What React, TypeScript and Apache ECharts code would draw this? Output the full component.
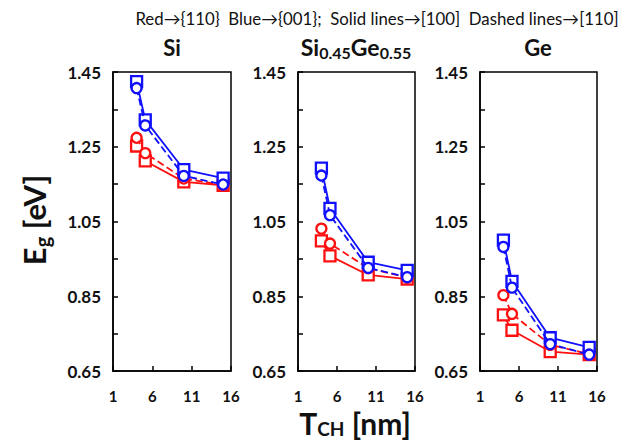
import React, { useEffect, useRef } from "react";
import * as echarts from "echarts";

// Channel thickness T_CH [nm]
const tch = [4, 5.1, 10, 15];

// Band gap Eg [eV]; red = {110}, blue = {001}; "100" = solid [100], "110" = dashed [110]
const siRed100 = [1.252, 1.212, 1.156, 1.147];
const siRed110 = [1.274, 1.233, 1.165, 1.148];
const siBlue100 = [1.424, 1.322, 1.189, 1.166];
const siBlue110 = [1.407, 1.307, 1.172, 1.149];

const sigeRed100 = [0.998, 0.958, 0.907, 0.896];
const sigeRed110 = [1.031, 0.991, 0.925, 0.9];
const sigeBlue100 = [1.193, 1.085, 0.941, 0.919];
const sigeBlue110 = [1.173, 1.067, 0.926, 0.901];

const geRed100 = [0.8, 0.759, 0.702, 0.694];
const geRed110 = [0.853, 0.803, 0.72, 0.695];
const geBlue100 = [1.0, 0.89, 0.739, 0.713];
const geBlue110 = [0.982, 0.873, 0.722, 0.694];

const xTicks = [1, 6, 11, 16];
const yMin = 0.65;
const yMax = 1.45;

const RED = "#ff1010";
const BLUE = "#1010ff";
const FONT = "Lato, 'Open Sans', sans-serif";

const panels = [
  { red100: siRed100, red110: siRed110, blue100: siBlue100, blue110: siBlue110 },
  { red100: sigeRed100, red110: sigeRed110, blue100: sigeBlue100, blue110: sigeBlue110 },
  { red100: geRed100, red110: geRed110, blue100: geBlue100, blue110: geBlue110 },
];

const grids = [
  { left: 113, top: 72, width: 118, height: 299 },
  { left: 298, top: 72, width: 117, height: 299 },
  { left: 480, top: 72, width: 117, height: 299 },
];

export default function App() {
  const ref = useRef<HTMLDivElement>(null);

  useEffect(() => {
    if (!ref.current) return;
    const chart = echarts.init(ref.current, undefined, { renderer: "svg" });

    const zip = (vals: number[]) => tch.map((t, i) => [t, vals[i]]);

    const series: any[] = [];
    panels.forEach((p, i) => {
      const mk = (vals: number[], color: string, dashed: boolean, z: number) => ({
        type: "line",
        xAxisIndex: i,
        yAxisIndex: i,
        data: zip(vals),
        symbol: dashed ? "circle" : "rect",
        symbolSize: dashed ? 10 : 11,
        z,
        lineStyle: { color, width: 1.8, type: dashed ? "dashed" : "solid" },
        itemStyle: { color: "#fff", borderColor: color, borderWidth: 2.3 },
      });
      series.push(mk(p.red100, RED, false, 2));
      series.push(mk(p.red110, RED, true, 3));
      series.push(mk(p.blue100, BLUE, false, 4));
      series.push(mk(p.blue110, BLUE, true, 5));
    });

    const axisLine = { show: true, lineStyle: { color: "#000", width: 1.5 } };
    const axisTick = { show: true, inside: true, length: 5, lineStyle: { color: "#000", width: 1.5 } };

    const option: any = {
      animation: false,
      backgroundColor: "#fff",
      grid: grids.map((g) => ({
        ...g,
        show: true,
        borderColor: "#000",
        borderWidth: 1.5,
        backgroundColor: "transparent",
        containLabel: false,
      })),
      xAxis: grids.map((_, i) => ({
        type: "value",
        gridIndex: i,
        min: xTicks[0],
        max: xTicks[xTicks.length - 1],
        interval: 5,
        axisLine,
        axisTick,
        splitLine: { show: false },
        axisLabel: {
          color: "#111",
          fontFamily: FONT,
          fontWeight: "bold",
          fontSize: 15,
          margin: 17,
        },
      })),
      yAxis: grids.map((_, i) => ({
        type: "value",
        gridIndex: i,
        min: yMin,
        max: yMax,
        interval: 0.1,
        axisLine,
        axisTick,
        splitLine: { show: false },
        axisLabel: {
          color: "#111",
          fontFamily: FONT,
          fontWeight: "bold",
          fontSize: 17,
          margin: 12,
          showMinLabel: true,
          showMaxLabel: true,
          formatter: (v: number) => {
            const k = Math.round((v - yMin) / 0.1);
            return k % 2 === 0 ? v.toFixed(2) : "";
          },
        },
      })),
      series,
      graphic: [
        {
          type: "text",
          x: 377,
          y: 18,
          style: {
            text: "Red\u2192{110}  Blue\u2192{001};  Solid lines\u2192[100]  Dashed lines\u2192[110]",
            fontFamily: FONT,
            fontSize: 16.8,
            fill: "#111",
            align: "center",
            verticalAlign: "middle",
          },
        },
        {
          type: "text",
          x: 172,
          y: 47,
          style: {
            text: "Si",
            fontFamily: FONT,
            fontSize: 22,
            fontWeight: "bold",
            fill: "#111",
            align: "center",
            verticalAlign: "middle",
          },
        },
        {
          type: "text",
          x: 356,
          y: 47,
          style: {
            text: "{a|Si}{b|0.45}{a|Ge}{b|0.55}",
            fontFamily: FONT,
            fill: "#111",
            align: "center",
            verticalAlign: "middle",
            rich: {
              a: { fontFamily: FONT, fontSize: 23, fontWeight: "bold", fill: "#111", color: "#111" },
              b: { fontFamily: FONT, fontSize: 16, fontWeight: "bold", fill: "#111", color: "#111", padding: [11, 0, 0, 0] },
            },
          },
        },
        {
          type: "text",
          x: 538,
          y: 47,
          style: {
            text: "Ge",
            fontFamily: FONT,
            fontSize: 22,
            fontWeight: "bold",
            fill: "#111",
            align: "center",
            verticalAlign: "middle",
          },
        },
        {
          type: "text",
          x: 34,
          y: 220,
          rotation: Math.PI / 2,
          style: {
            text: "{a|E}{b|g}{a| [eV]}",
            fill: "#111",
            align: "center",
            verticalAlign: "middle",
            rich: {
              a: { fontFamily: FONT, fontSize: 31, fontWeight: "bold", fill: "#111", color: "#111" },
              b: { fontFamily: FONT, fontSize: 20, fontWeight: "bold", fill: "#111", color: "#111", padding: [15, 0, 0, 0] },
            },
          },
        },
        {
          type: "text",
          x: 355,
          y: 423,
          style: {
            text: "{a|T}{b|CH}{a| [nm]}",
            fill: "#111",
            align: "center",
            verticalAlign: "middle",
            rich: {
              a: { fontFamily: FONT, fontSize: 30, fontWeight: "bold", fill: "#111", color: "#111", lineHeight: 30 },
              b: { fontFamily: FONT, fontSize: 19, fontWeight: "bold", fill: "#111", color: "#111", lineHeight: 19, padding: [10, 0, 0, 0] },
            },
          },
        },
      ],
    };

    chart.setOption(option);
    return () => chart.dispose();
  }, []);

  return (
    <div
      ref={ref}
      style={{ position: "fixed", left: 0, top: 0, width: 620, height: 444 }}
    />
  );
}
